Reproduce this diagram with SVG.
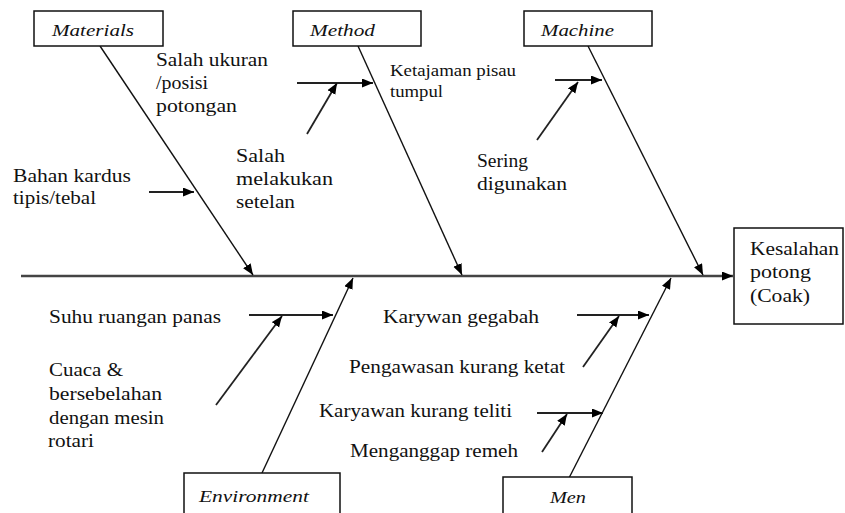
<svg xmlns="http://www.w3.org/2000/svg" width="845" height="513" viewBox="0 0 845 513">
<defs>
<marker id="ah" markerUnits="userSpaceOnUse" markerWidth="12" markerHeight="10" refX="11" refY="4.5" orient="auto">
<path d="M0,0 L11,4.5 L0,9 z" fill="#000"/>
</marker>
</defs>
<style>
text{font-family:'Liberation Serif',serif;font-size:18px;fill:#111;}
.cat{font-style:italic;font-size:17px;}
.sm{font-size:16px;}
.box{fill:#fff;stroke:#111;stroke-width:1.5;}
.bone{stroke:#111;stroke-width:1.4;fill:none;marker-end:url(#ah);}
.spine{stroke:#444;stroke-width:2.6;fill:none;marker-end:url(#ah);}
.sub{stroke:#222;stroke-width:1.8;fill:none;marker-end:url(#ah);}
</style>
<rect width="845" height="513" fill="#fff"/>
<g id="connectors">
<line class="spine" x1="21" y1="276" x2="733" y2="276"/>
<line class="bone" x1="100" y1="46" x2="253" y2="275"/>
<line class="bone" x1="358" y1="46" x2="462" y2="275"/>
<line class="bone" x1="588" y1="46" x2="703" y2="275"/>
<line class="bone" x1="262" y1="473" x2="353" y2="278"/>
<line class="bone" x1="569" y1="478" x2="671" y2="278"/>
<line class="sub" x1="149" y1="192" x2="194" y2="192"/>
<line class="sub" x1="297" y1="83" x2="373" y2="83"/>
<line class="sub" x1="307" y1="134" x2="337" y2="83"/>
<line class="sub" x1="555" y1="80" x2="602" y2="80"/>
<line class="sub" x1="537" y1="140" x2="578" y2="82"/>
<line class="sub" x1="249" y1="315" x2="333" y2="315"/>
<line class="sub" x1="216" y1="405" x2="282" y2="316"/>
<line class="sub" x1="577" y1="315" x2="649" y2="315"/>
<line class="sub" x1="583" y1="367" x2="619" y2="316"/>
<line class="sub" x1="537" y1="413" x2="603" y2="413"/>
<line class="sub" x1="542" y1="452" x2="567" y2="414"/>
</g>
<g font-family="Liberation Serif, serif">
<g id="materials">
<rect class="box" x="34" y="11" width="129" height="35"/>
<text class="cat" x="52" y="36" textLength="82" lengthAdjust="spacingAndGlyphs">Materials</text>
</g>
<g id="method">
<rect class="box" x="293" y="11" width="128" height="35"/>
<text class="cat" x="310" y="36" textLength="65" lengthAdjust="spacingAndGlyphs">Method</text>
</g>
<g id="machine">
<rect class="box" x="524" y="11" width="128" height="35"/>
<text class="cat" x="541" y="36" textLength="73" lengthAdjust="spacingAndGlyphs">Machine</text>
</g>
<g id="environment">
<rect class="box" x="184" y="473" width="156" height="45"/>
<text class="cat" x="199" y="502" textLength="110" lengthAdjust="spacingAndGlyphs">Environment</text>
</g>
<g id="men">
<rect class="box" x="503" y="477" width="129" height="40"/>
<text class="cat" x="550" y="503" textLength="36" lengthAdjust="spacingAndGlyphs">Men</text>
</g>
<g id="effect">
<rect class="box" x="734" y="228" width="109" height="96"/>
<text x="750" y="255" textLength="89" lengthAdjust="spacingAndGlyphs">Kesalahan</text>
<text x="750" y="278" textLength="61" lengthAdjust="spacingAndGlyphs">potong</text>
<text x="750" y="302" textLength="60" lengthAdjust="spacingAndGlyphs">(Coak)</text>
</g>
<g id="cause-materials">
<text x="156" y="66" textLength="112" lengthAdjust="spacingAndGlyphs">Salah ukuran</text>
<text x="156" y="89" textLength="52" lengthAdjust="spacingAndGlyphs">/posisi</text>
<text x="156" y="112" textLength="81" lengthAdjust="spacingAndGlyphs">potongan</text>
<text x="13" y="182" textLength="118" lengthAdjust="spacingAndGlyphs">Bahan kardus</text>
<text x="13" y="204" textLength="83" lengthAdjust="spacingAndGlyphs">tipis/tebal</text>
</g>
<g id="cause-method">
<text x="236" y="162" textLength="49" lengthAdjust="spacingAndGlyphs">Salah</text>
<text x="236" y="185" textLength="97" lengthAdjust="spacingAndGlyphs">melakukan</text>
<text x="236" y="208" textLength="59" lengthAdjust="spacingAndGlyphs">setelan</text>
<text class="sm" x="390" y="76" textLength="126" lengthAdjust="spacingAndGlyphs">Ketajaman pisau</text>
<text class="sm" x="390" y="97" textLength="53" lengthAdjust="spacingAndGlyphs">tumpul</text>
</g>
<g id="cause-machine">
<text x="477" y="167" textLength="51" lengthAdjust="spacingAndGlyphs">Sering</text>
<text x="477" y="190" textLength="90" lengthAdjust="spacingAndGlyphs">digunakan</text>
</g>
<g id="cause-environment">
<text x="49" y="323" textLength="172" lengthAdjust="spacingAndGlyphs">Suhu ruangan panas</text>
<text x="49" y="376" textLength="74" lengthAdjust="spacingAndGlyphs">Cuaca &amp;</text>
<text x="49" y="400" textLength="113" lengthAdjust="spacingAndGlyphs">bersebelahan</text>
<text x="49" y="424" textLength="115" lengthAdjust="spacingAndGlyphs">dengan mesin</text>
<text x="48" y="447" textLength="46" lengthAdjust="spacingAndGlyphs">rotari</text>
</g>
<g id="cause-men">
<text x="383" y="323" textLength="156" lengthAdjust="spacingAndGlyphs">Karywan gegabah</text>
<text x="349" y="373" textLength="216" lengthAdjust="spacingAndGlyphs">Pengawasan kurang ketat</text>
<text x="319" y="417" textLength="193" lengthAdjust="spacingAndGlyphs">Karyawan kurang teliti</text>
<text x="350" y="457" textLength="168" lengthAdjust="spacingAndGlyphs">Menganggap remeh</text>
</g>
</g>
</svg>
